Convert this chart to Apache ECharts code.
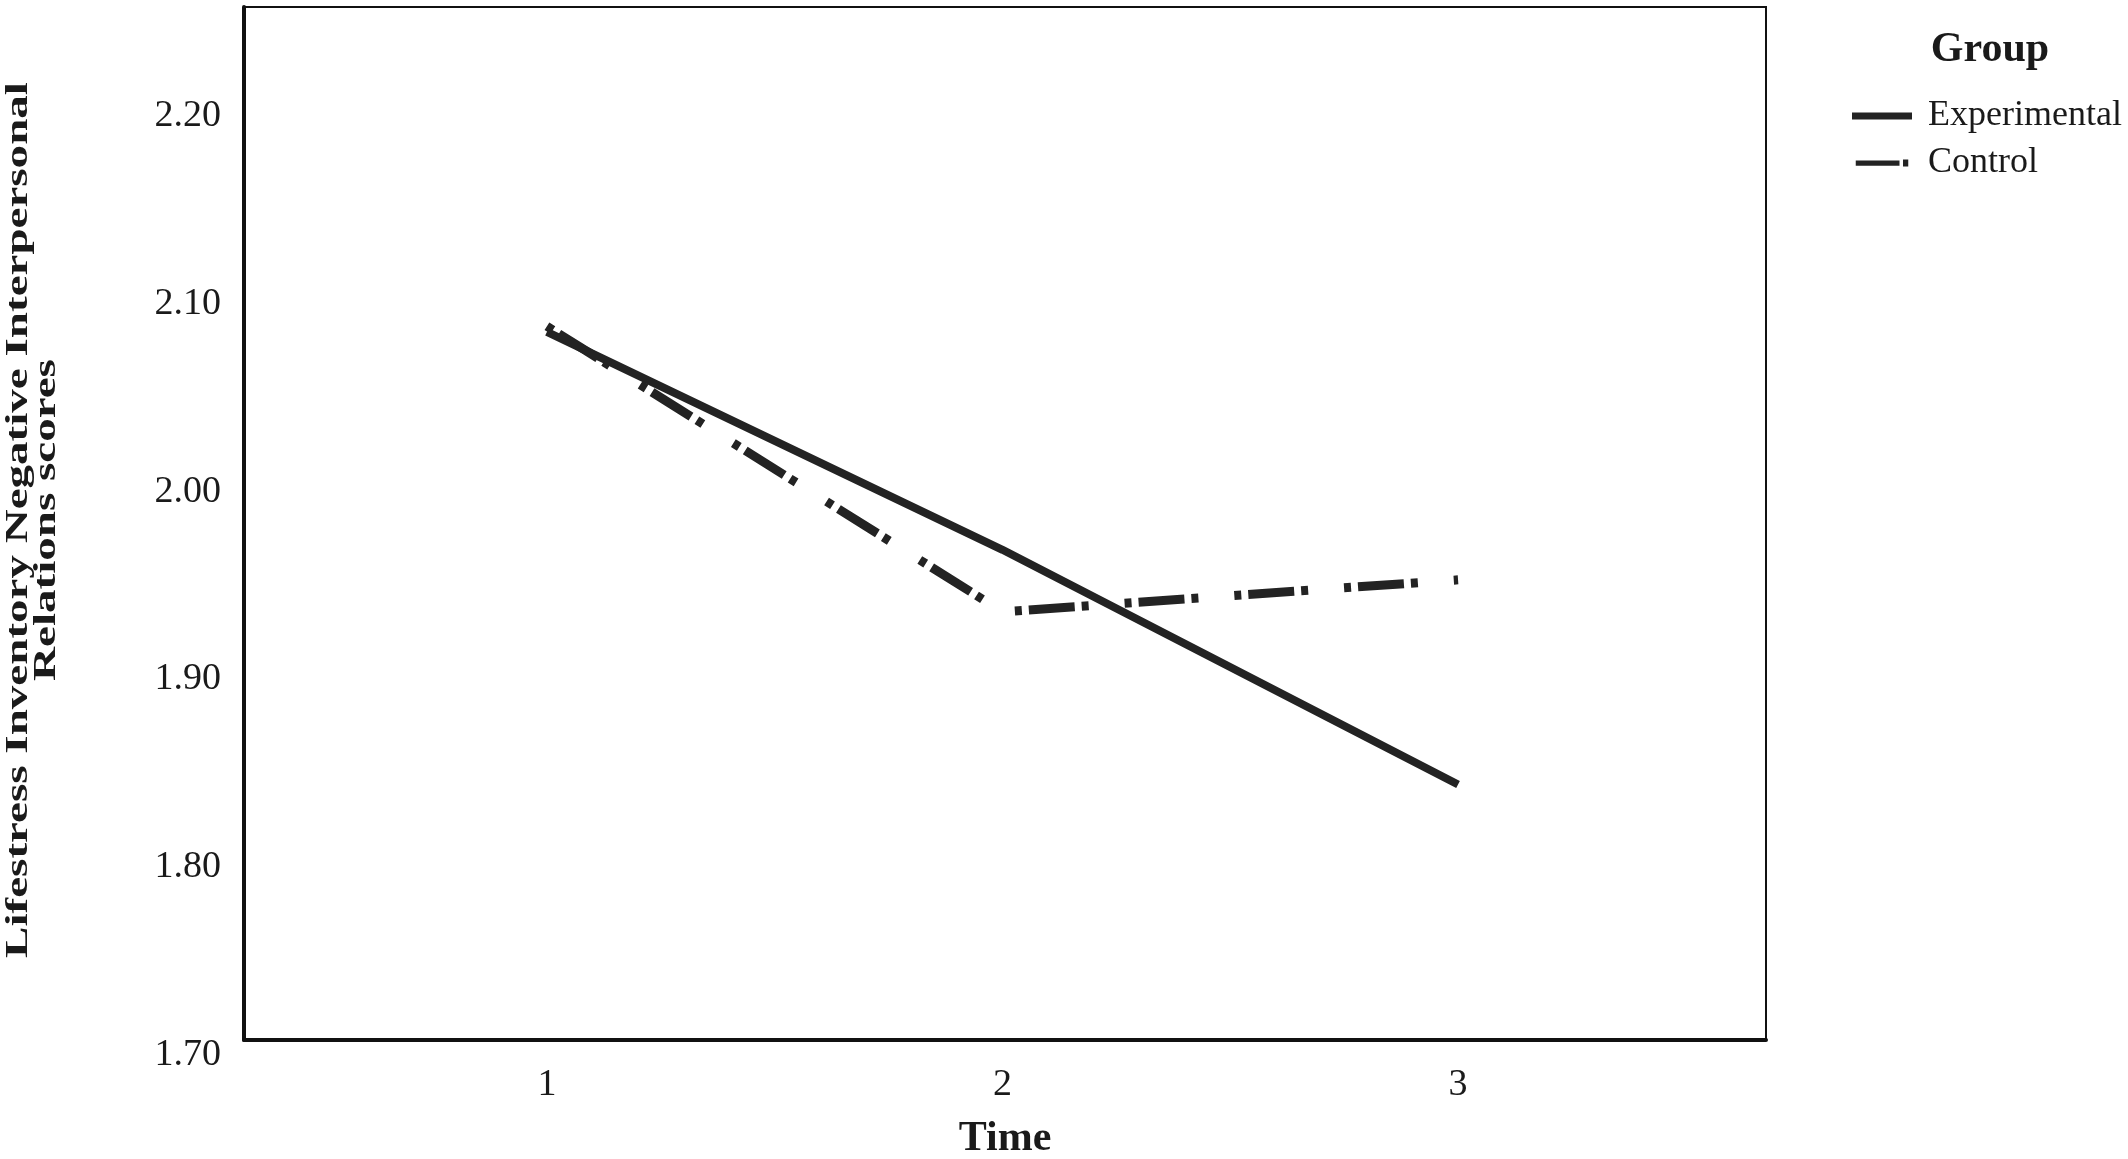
<!DOCTYPE html>
<html>
<head>
<meta charset="utf-8">
<script src="https://cdn.jsdelivr.net/npm/echarts@6/dist/echarts.min.js"></script>
<style>
  html, body { margin: 0; padding: 0; background: #ffffff; }
  #chart { width: 2128px; height: 1159px; }
</style>
</head>
<body>
<div id="chart"></div>
<script>
// ---- data ----
var timePoints = [1, 2, 3];
var timeLabels = ['1', '2', '3'];
var experimental = [2.077, 1.961, 1.836];
var control = [2.080, 1.928, 1.945];
var yTicks = [1.70, 1.80, 1.90, 2.00, 2.10, 2.20];
var seriesNames = ['Experimental', 'Control'];
var legendTitle = 'Group';
var xTitle = 'Time';
var yTitle = 'Lifestress Inventory Negative Interpersonal\nRelations scores';

function pairs(xs, ys) { return xs.map(function (x, i) { return [x, ys[i]]; }); }

var FONT = '"Liberation Serif", "Times New Roman", serif';
var INK = '#1a1a1a';
var LINE = '#232323';

var chart = echarts.init(document.getElementById('chart'), null, { renderer: 'canvas' });
chart.setOption({
  backgroundColor: '#ffffff',
  animation: false,
  grid: {
    left: 244, right: 362, top: 7, bottom: 119,
    outerBoundsMode: 'none', containLabel: false,
    show: true, borderColor: '#111', borderWidth: 2, backgroundColor: 'transparent'
  },
  xAxis: {
    type: 'value',
    min: 0.335, max: 3.676,
    splitLine: { show: false },
    axisTick: { show: false },
    axisLine: { show: true, onZero: false, lineStyle: { color: '#111', width: 4 } },
    axisLabel: {
      customValues: timePoints,
      formatter: function (v) { var i = timePoints.indexOf(Math.round(v)); return i >= 0 ? timeLabels[i] : ''; },
      fontFamily: FONT, fontSize: 38, color: INK, margin: 26
    },
    name: xTitle,
    nameLocation: 'middle',
    nameGap: 78,
    nameTextStyle: { fontFamily: FONT, fontSize: 42, fontWeight: 'bold', color: INK }
  },
  yAxis: {
    type: 'value',
    min: 1.70, max: 2.25,
    splitLine: { show: false },
    axisTick: { show: false },
    axisLine: { show: true, onZero: false, lineStyle: { color: '#111', width: 4 } },
    axisLabel: {
      customValues: yTicks,
      formatter: function (v) { return v.toFixed(2); },
      fontFamily: FONT, fontSize: 38, color: INK, margin: 23,
      verticalAlign: 'top', lineHeight: 30
    }
  },
  legend: {
    orient: 'vertical',
    left: 1847, top: 93,
    itemWidth: 60, itemHeight: 7, itemGap: 11,
    data: [
      { name: seriesNames[0], icon: 'rect' },
      { name: seriesNames[1], icon: 'path://M0,1H50V7H0Z M54,0H60V8H54Z' }
    ],
    textStyle: { fontFamily: FONT, fontSize: 36, color: INK, padding: [0, 0, 0, 11] }
  },
  graphic: [
    {
      type: 'text', x: 1990, y: 50,
      style: { text: legendTitle, font: 'bold 42px ' + FONT, fill: INK, align: 'center', verticalAlign: 'middle' }
    },
    {
      type: 'text', x: 33, y: 520, rotation: Math.PI / 2, scaleX: 1.47, scaleY: 1,
      style: { text: yTitle, font: 'bold 32px ' + FONT, lineHeight: 28, fill: INK, align: 'center', verticalAlign: 'middle' }
    }
  ],
  series: [
    {
      name: seriesNames[0], type: 'line',
      data: pairs(timePoints, experimental),
      symbol: 'none', showSymbol: false,
      lineStyle: { color: LINE, width: 8, cap: 'butt' },
      itemStyle: { color: LINE }
    },
    {
      name: seriesNames[1], type: 'line',
      data: pairs(timePoints, control),
      symbol: 'none', showSymbol: false,
      lineStyle: { color: LINE, width: 9, type: [7, 7, 46, 7, 7, 36], cap: 'butt' },
      itemStyle: { color: LINE }
    }
  ]
});
</script>
</body>
</html>
